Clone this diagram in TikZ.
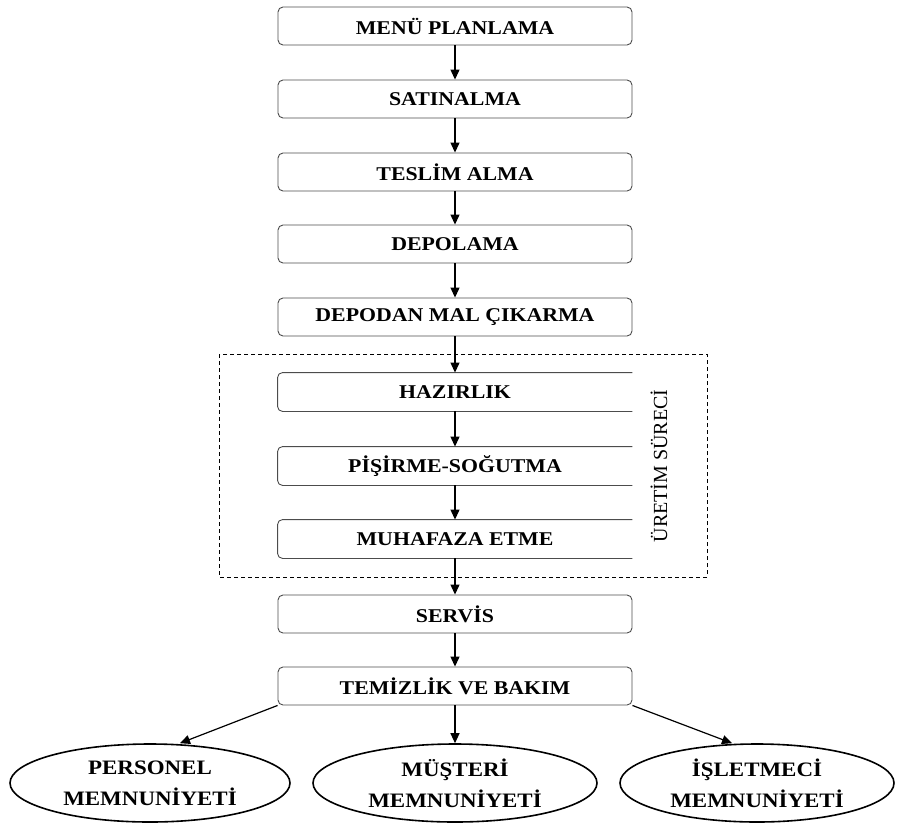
\documentclass[tikz,border=0pt]{standalone}
\usepackage{fontspec}
\setmainfont{Liberation Serif}
\newfontfamily\kutufont[FakeStretch=1.12]{Liberation Serif}
\usetikzlibrary{shapes.geometric,arrows.meta}

\begin{document}
\begin{tikzpicture}[
    x=1pt, y=-1pt,
    >={Triangle[length=10pt,width=9pt]},
    kutu/.style={
        draw=black!70,
        line width=0.9pt,
        rounded corners=5pt,
        minimum width=354pt,
        minimum height=38pt,
        inner sep=0pt,
        font=\kutufont\bfseries\fontsize{19.5}{22}\selectfont
    },
    kutuacik/.style={kutu, draw=none},
    kenar/.style={draw=black!70, line width=0.9pt, rounded corners=5pt},
    memnun/.style={
        ellipse,
        draw,
        line width=1.6pt,
        minimum width=280pt,
        minimum height=78pt,
        inner sep=0pt,
        align=center,
        font=\kutufont\bfseries\fontsize{20.5}{31}\selectfont
    },
    ok/.style={->, line width=1.2pt}
]

\useasboundingbox (0,0) rectangle (899,835);

% Ana akis
\node[kutu] (menu)   at (455,26)  {MENÜ PLANLAMA};
\node[kutu] (satin)  at (455,99)  {SATINALMA};
\node[kutu] (teslim) at (455,172) {TESLİM ALMA};
\node[kutu] (depo)   at (455,244) {DEPOLAMA};
\node[kutu] (cikar)  at (455,317) {DEPODAN MAL ÇIKARMA};

% Uretim sureci
\node[kutuacik] (hazir) at (455,392) {HAZIRLIK};
\node[kutuacik] (pisir) at (455,466) {PİŞİRME-SOĞUTMA};
\node[kutuacik] (muhaf) at (455,539) {MUHAFAZA ETME};
\foreach \k in {hazir,pisir,muhaf}
  \draw[kenar] (\k.north east) -- (\k.north west) -- (\k.south west) -- (\k.south east);

\draw[
    dashed,
    dash pattern=on 4pt off 3pt,
    line width=1pt
] (219,354) rectangle (707,577);
\node[
    rotate=90,
    font=\fontsize{20}{22}\selectfont
] (uretim) at (659,466) {ÜRETİM SÜRECİ};

\node[kutu] (servis) at (455,614) {SERVİS};
\node[kutu] (temiz)  at (455,686) {TEMİZLİK VE BAKIM};

% Memnuniyet
\node[memnun, minimum width=280pt] (personel) at (150,783) {PERSONEL\\MEMNUNİYETİ};
\node[memnun, minimum width=284pt] (musteri)  at (455,783) {MÜŞTERİ\\MEMNUNİYETİ};
\node[memnun, minimum width=274pt] (isletme)  at (757,783) {İŞLETMECİ\\MEMNUNİYETİ};

% Oklar
\draw[ok] (menu) -- (satin);
\draw[ok] (satin) -- (teslim);
\draw[ok] (teslim) -- (depo);
\draw[ok] (depo) -- (cikar);
\draw[ok] (cikar) -- (hazir);
\draw[ok] (hazir) -- (pisir);
\draw[ok] (pisir) -- (muhaf);
\draw[ok] (muhaf) -- (servis);
\draw[ok] (servis) -- (temiz);
\draw[ok] (temiz.south west) -- ([xshift=30pt]personel.north);
\draw[ok] (temiz) -- (musteri);
\draw[ok] (temiz.south east) -- ([xshift=-25pt]isletme.north);

\end{tikzpicture}
\end{document}
